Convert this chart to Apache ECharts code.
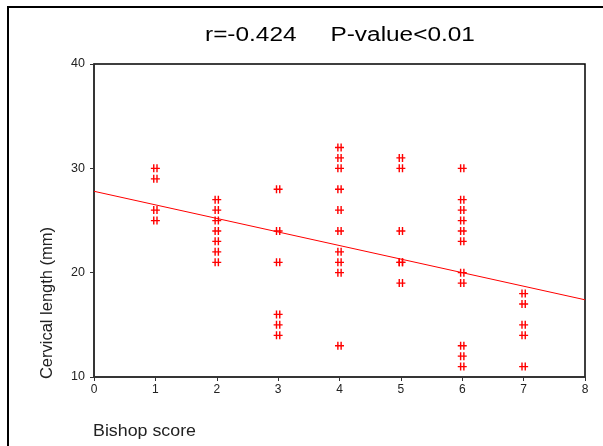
<!DOCTYPE html>
<html>
<head>
<meta charset="utf-8">
<script src="https://cdn.jsdelivr.net/npm/echarts@6/dist/echarts.min.js"></script>
<style>
html,body{margin:0;padding:0;background:#fff;}
#c{width:603px;height:446px;}
</style>
</head>
<body>
<div id="c"></div>
<script>
// Data
var bishop1 = [30, 29, 26, 25];
var bishop2 = [27, 26, 25, 24, 23, 22, 21];
var bishop3 = [28, 24, 21, 16, 15, 14];
var bishop4 = [32, 31, 30, 28, 26, 24, 22, 21, 20, 13];
var bishop5 = [31, 30, 24, 21, 21, 19];
var bishop6 = [30, 27, 26, 25, 24, 23, 20, 19, 13, 12, 11];
var bishop7 = [18, 17, 15, 14, 11];
var scoreGroups = [1, 2, 3, 4, 5, 6, 7];
var groupValues = [bishop1, bishop2, bishop3, bishop4, bishop5, bishop6, bishop7];
var fitX = [0, 8];
var fitY = [27.8, 17.4];
var titleText = 'r=-0.424     P-value<0.01';
var xName = 'Bishop score';
var yName = 'Cervical length (mm)';

var points = [];
scoreGroups.forEach(function (s, i) {
  groupValues[i].forEach(function (v) { points.push([s, v]); });
});
var fitData = fitX.map(function (x, i) { return [x, fitY[i]]; });

var chart = echarts.init(document.getElementById('c'), null, {renderer: 'canvas'});
var font = 'Liberation Sans, Arial, sans-serif';
chart.setOption({
  animation: false,
  backgroundColor: '#fff',
  grid: {left: 94, top: 64, right: 18, bottom: 69, show: true, borderColor: '#000', borderWidth: 1.5, backgroundColor: 'transparent'},
  graphic: [
    {type: 'polyline', shape: {points: [[8, 446], [8, 7], [603, 7]]}, style: {stroke: '#000', lineWidth: 2, fill: null}},
    {type: 'text', x: 205, y: 35, scaleX: 1.22, style: {text: titleText, font: '20px ' + font, fill: '#000', textAlign: 'left', textVerticalAlign: 'middle'}},
    {type: 'text', x: 93, y: 431, scaleX: 1.08, style: {text: xName, font: '16.5px ' + font, fill: '#222', textAlign: 'left', textVerticalAlign: 'middle'}},
    {type: 'text', x: 47, y: 303, rotation: Math.PI / 2, style: {text: yName, font: '16.5px ' + font, fill: '#222', textAlign: 'center', textVerticalAlign: 'middle'}}
  ],
  xAxis: {
    type: 'value', min: 0, max: 8, interval: 1,
    axisLine: {lineStyle: {color: '#333', width: 1.5}},
    axisTick: {show: true, length: 4, lineStyle: {color: '#333'}},
    axisLabel: {color: '#222', fontSize: 12, fontFamily: font, margin: 7},
    splitLine: {show: false}
  },
  yAxis: {
    type: 'value', min: 10, max: 40, interval: 10,
    axisLine: {show: true, lineStyle: {color: '#333', width: 1.5}},
    axisTick: {show: true, length: 4, lineStyle: {color: '#333'}},
    axisLabel: {color: '#222', fontSize: 12.5, fontFamily: font, margin: 9},
    splitLine: {show: false}
  },
  series: [
    {
      type: 'line', data: fitData, showSymbol: false, symbol: 'none',
      lineStyle: {color: '#ff0000', width: 1}, z: 2
    },
    {
      type: 'scatter', data: points,
      symbol: 'path://M2,0h1.3v8h-1.3z M5,0h1.3v8h-1.3z M0,3.4h8.3v1.3h-8.3z',
      symbolSize: [9, 8],
      itemStyle: {color: '#ff0000', opacity: 1}, z: 3
    }
  ]
});
</script>
</body>
</html>
